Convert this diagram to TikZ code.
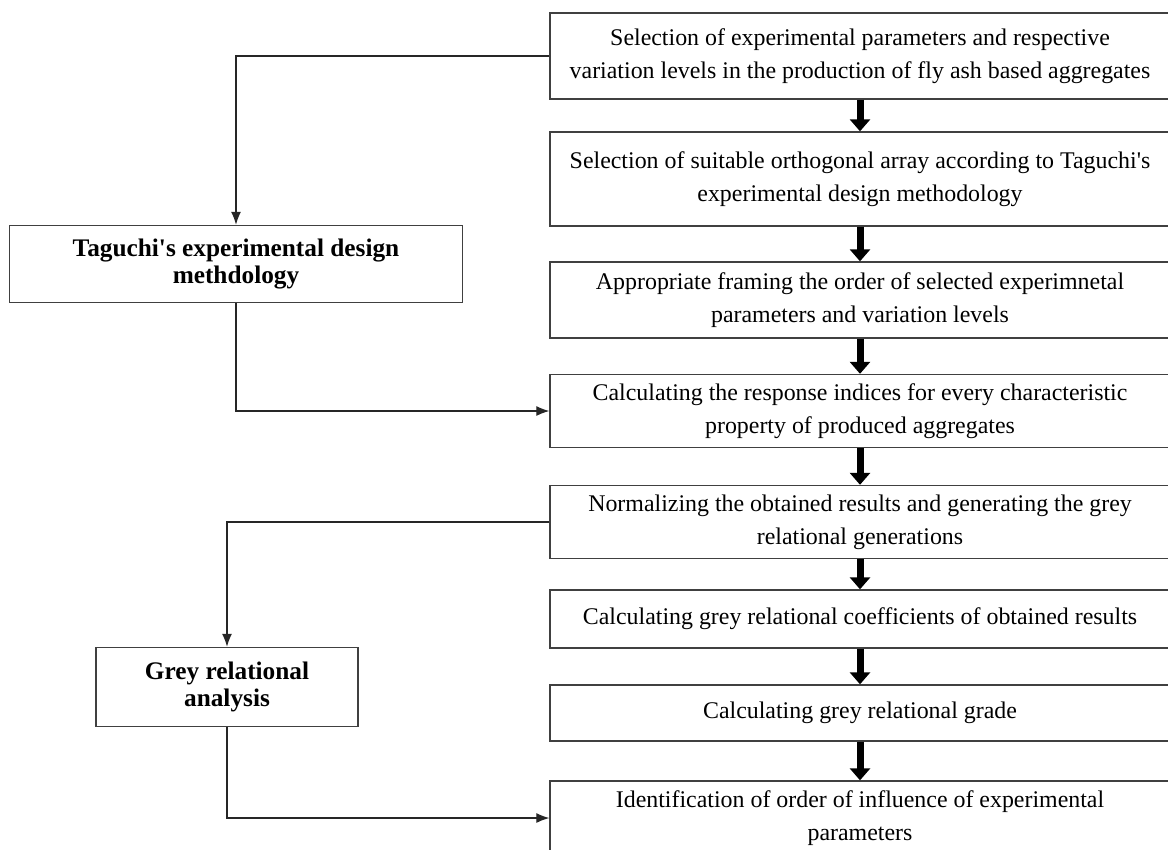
\documentclass[tikz,border=0pt]{standalone}
\usepackage{fontspec}
\setmainfont{Liberation Serif}[Ligatures=TeXOff]
\usepackage{tikz}
\usetikzlibrary{arrows.meta,positioning}
\tikzset{
myStep/.style={
	rectangle,draw=black!75,line width=0.8pt,
	minimum width=12.4cm,inner sep=0pt,align=center,
	font={\fontsize{13.6}{19}\selectfont}, text=black
}
, myMethod/.style={
	rectangle,draw=black!75,line width=0.8pt,
	inner sep=0pt,align=center,
	font={\fontsize{14.4}{15.5}\selectfont\bfseries}, text=black
}
% links
, myFlow/.style={-{Triangle[width=0.4cm,length=0.24cm]},line width=4pt,black}
, myLink/.style={-{Latex[width=2mm,length=2.6mm]},line width=0.7pt,black!85}
}
\begin{document}
\begin{tikzpicture}[x={(0.02cm,0)},y={(0,-0.02cm)}]
	\useasboundingbox (0,0) rectangle (1168,849);
	% steps
	\node[myStep,minimum height=1.72cm] (S1) at (860,56)  {Selection of experimental parameters and respective\\variation levels in the production of fly ash based aggregates};
	\node[myStep,minimum height=1.88cm] (S2) at (860,179) {Selection of suitable orthogonal array according to Taguchi's\\experimental design methodology};
	\node[myStep,minimum height=1.52cm] (S3) at (860,300) {Appropriate framing the order of selected experimnetal\\parameters and variation levels};
	\node[myStep,minimum height=1.46cm] (S4) at (860,411) {Calculating the response indices for every characteristic\\property of produced aggregates};
	\node[myStep,minimum height=1.46cm] (S5) at (860,522) {Normalizing the obtained results and generating the grey\\relational generations};
	\node[myStep,minimum height=1.16cm] (S6) at (860,619) {Calculating grey relational coefficients of obtained results};
	\node[myStep,minimum height=1.12cm] (S7) at (860,713) {Calculating grey relational grade};
	\node[myStep,minimum height=1.48cm] (S8) at (860,818) {Identification of order of influence of experimental\\parameters};
	% methods
	\node[myMethod,minimum width=9.06cm,minimum height=1.54cm] (Taguchi) at (236,264) {Taguchi's experimental design\\methdology};
	\node[myMethod,minimum width=5.24cm,minimum height=1.58cm] (Grey) at (227,687) {Grey relational\\analysis};
	% flow
	\foreach \a/\b in {S1/S2,S2/S3,S3/S4,S4/S5,S5/S6,S6/S7,S7/S8}
		\draw [myFlow] (\a.south) -- (\b.north);
	% links
	\draw [myLink] (S1.west) -| (Taguchi.north);
	\draw [myLink] (Taguchi.south) |- (S4.west);
	\draw [myLink] (S5.west) -| (Grey.north);
	\draw [myLink] (Grey.south) |- (S8.west);
\end{tikzpicture}
\end{document}
